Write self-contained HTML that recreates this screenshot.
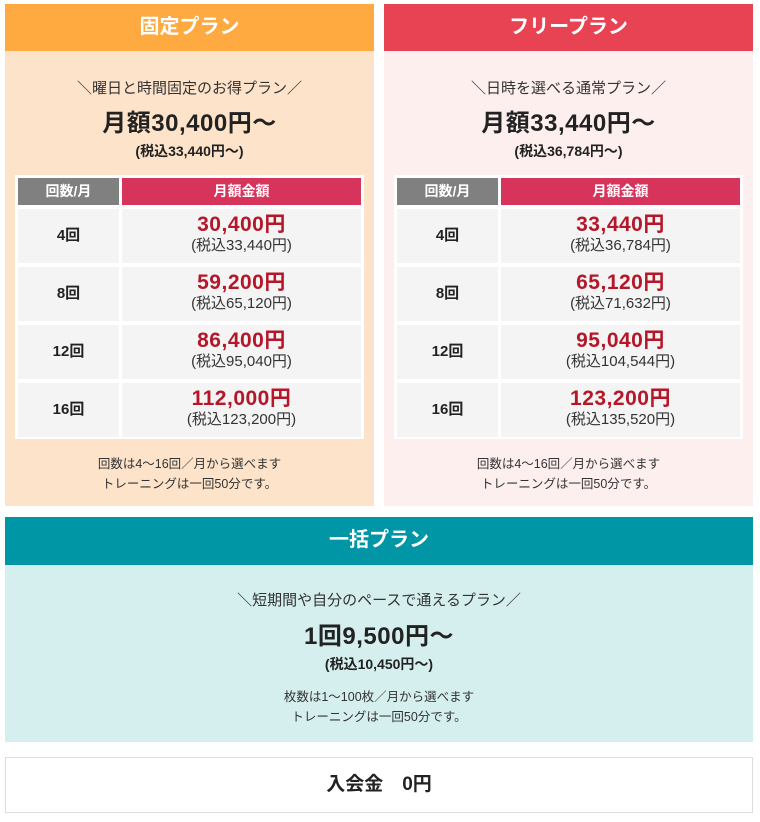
<!DOCTYPE html>
<html><head><meta charset="utf-8"><style>
*{margin:0;padding:0;box-sizing:border-box}
body{width:760px;height:822px;background:#fff;font-family:"Liberation Sans","Noto Sans CJK JP",sans-serif;color:#222;position:relative;overflow:hidden}
.p{position:absolute;text-align:center}
.hd{position:absolute;left:0;right:0;top:0;height:47px;color:#fff;font-weight:bold;font-size:20px;line-height:46px;text-align:center}
.sub{position:absolute;left:0;right:0;font-size:15px;color:#333}
.big{position:absolute;left:0;right:0;font-size:24px;font-weight:bold;color:#222;letter-spacing:0.5px}
.sm{position:absolute;left:0;right:0;font-size:14px;font-weight:bold;color:#222}
.note{position:absolute;left:0;right:0;font-size:12.5px;line-height:20px;color:#333}
.tb{position:absolute;left:10px;top:171px;width:349px;height:264px;background:#fff}
.c{position:absolute;text-align:center}
.g{background:#808080;color:#fff;font-weight:bold;font-size:14px;line-height:27px}
.r{background:#d6345a;color:#fff;font-weight:bold;font-size:14px;line-height:27px}
.cell{background:#f4f4f4}
.n{font-weight:bold;font-size:15px;line-height:54px}
.pr{font-weight:bold;font-size:21px;color:#b5172a;margin-top:4px;line-height:23px;letter-spacing:0.5px}
.tx{font-size:15px;color:#333;line-height:19px}
</style></head><body>
<div class="p" style="left:5px;top:4px;width:369px;height:502px;background:#fce3c9">
<div class="hd" style="background:#ffaa40">固定プラン</div>
<div class="sub" style="top:73px">＼曜日と時間固定のお得プラン／</div>
<div class="big" style="top:99px">月額30,400円～</div>
<div class="sm" style="top:137px">(税込33,440円～)</div>
<div class="tb">
<div class="c g" style="left:3px;top:3px;width:101px;height:27px">回数/月</div>
<div class="c r" style="left:107px;top:3px;width:239px;height:27px">月額金額</div>
<div class="c cell n" style="left:3px;top:34px;width:101px;height:54px">4回</div>
<div class="c cell" style="left:107px;top:34px;width:239px;height:54px"><div class="pr">30,400円</div><div class="tx">(税込33,440円)</div></div>
<div class="c cell n" style="left:3px;top:92px;width:101px;height:54px">8回</div>
<div class="c cell" style="left:107px;top:92px;width:239px;height:54px"><div class="pr">59,200円</div><div class="tx">(税込65,120円)</div></div>
<div class="c cell n" style="left:3px;top:150px;width:101px;height:54px">12回</div>
<div class="c cell" style="left:107px;top:150px;width:239px;height:54px"><div class="pr">86,400円</div><div class="tx">(税込95,040円)</div></div>
<div class="c cell n" style="left:3px;top:208px;width:101px;height:54px">16回</div>
<div class="c cell" style="left:107px;top:208px;width:239px;height:54px"><div class="pr">112,000円</div><div class="tx">(税込123,200円)</div></div>
</div>
<div class="note" style="top:450px">回数は4～16回／月から選べます<br>トレーニングは一回50分です。</div>
</div>
<div class="p" style="left:384px;top:4px;width:369px;height:502px;background:#fcefee">
<div class="hd" style="background:#e84352">フリープラン</div>
<div class="sub" style="top:73px">＼日時を選べる通常プラン／</div>
<div class="big" style="top:99px">月額33,440円～</div>
<div class="sm" style="top:137px">(税込36,784円～)</div>
<div class="tb">
<div class="c g" style="left:3px;top:3px;width:101px;height:27px">回数/月</div>
<div class="c r" style="left:107px;top:3px;width:239px;height:27px">月額金額</div>
<div class="c cell n" style="left:3px;top:34px;width:101px;height:54px">4回</div>
<div class="c cell" style="left:107px;top:34px;width:239px;height:54px"><div class="pr">33,440円</div><div class="tx">(税込36,784円)</div></div>
<div class="c cell n" style="left:3px;top:92px;width:101px;height:54px">8回</div>
<div class="c cell" style="left:107px;top:92px;width:239px;height:54px"><div class="pr">65,120円</div><div class="tx">(税込71,632円)</div></div>
<div class="c cell n" style="left:3px;top:150px;width:101px;height:54px">12回</div>
<div class="c cell" style="left:107px;top:150px;width:239px;height:54px"><div class="pr">95,040円</div><div class="tx">(税込104,544円)</div></div>
<div class="c cell n" style="left:3px;top:208px;width:101px;height:54px">16回</div>
<div class="c cell" style="left:107px;top:208px;width:239px;height:54px"><div class="pr">123,200円</div><div class="tx">(税込135,520円)</div></div>
</div>
<div class="note" style="top:450px">回数は4～16回／月から選べます<br>トレーニングは一回50分です。</div>
</div>
<div class="p" style="left:5px;top:517px;width:748px;height:225px;background:#d5efee">
<div class="hd" style="background:#0096a5;height:48px;line-height:46px">一括プラン</div>
<div class="sub" style="top:72px">＼短期間や自分のペースで通えるプラン／</div>
<div class="big" style="top:99px">1回9,500円～</div>
<div class="sm" style="top:137px">(税込10,450円～)</div>
<div class="note" style="top:170px">枚数は1～100枚／月から選べます<br>トレーニングは一回50分です。</div>
</div>
<div class="p" style="left:5px;top:757px;width:748px;height:56px;border:1px solid #ddd;background:#fff;font-size:19px;font-weight:bold;line-height:54px">入会金　0円</div>
</body></html>
